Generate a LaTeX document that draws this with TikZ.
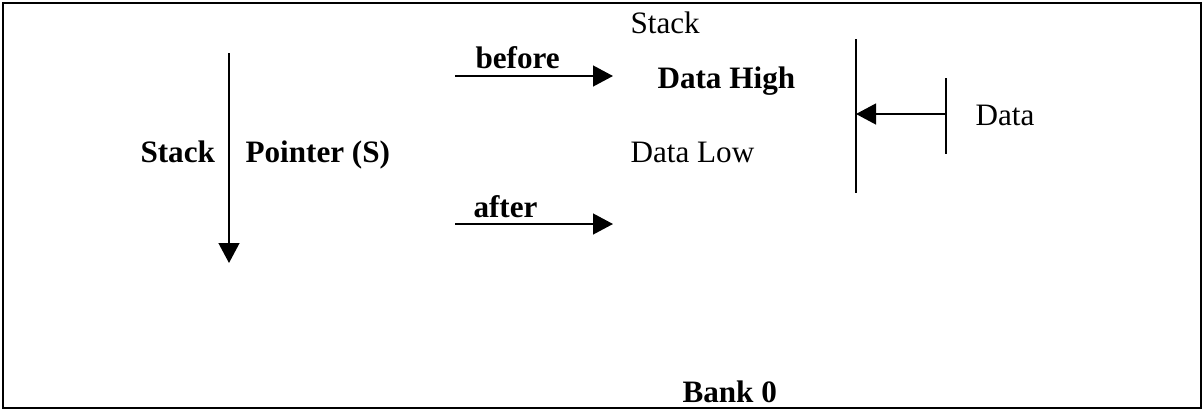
\documentclass[tikz,border=0pt]{standalone}
\usepackage{fontspec}
\setmainfont{Liberation Serif}
\usetikzlibrary{arrows.meta,positioning}

\begin{document}
\begin{tikzpicture}[
  x=0.385pt, y=-0.385pt,
  >={Triangle[length=7.7pt,width=8pt]},
  line/.style={line width=0.8pt},
  txt/.style={anchor=base west, inner sep=0pt, font=\fontsize{12}{14}\selectfont},
  btxt/.style={txt, font=\fontsize{12}{14}\selectfont\bfseries},
]
  \useasboundingbox (0,0) rectangle (1203,410);
  \draw[line width=0.9pt] (3,3) rectangle (1201,408);
  % stack pointer direction
  \coordinate (spTop) at (229,53);
  \coordinate (spEnd) at (229,263);
  \draw[line,->] (spTop) -- (spEnd);
  \node[btxt] (stackLbl) at (140,162) {Stack};
  \node[btxt] (pointerLbl) at (245,162) {Pointer (S)};
  % before / after
  \coordinate (befA) at (455,76);
  \coordinate (befB) at (613,76);
  \draw[line,->] (befA) -- (befB);
  \node[btxt] (before) at (475,68) {before};
  \coordinate (aftA) at (455,224);
  \coordinate (aftB) at (613,224);
  \draw[line,->] (aftA) -- (aftB);
  \node[btxt] (after) at (473,217) {after};
  % stack contents
  \node[txt] (stackTop) at (630,33) {Stack};
  \node[btxt] (dataHigh) at (657,88) {Data High};
  \node[txt] (dataLow) at (630,162) {Data Low};
  % data in
  \coordinate (barTop) at (856,39);
  \coordinate (barBot) at (856,193);
  \draw[line] (barTop) -- (barBot);
  \coordinate (inTop) at (946,78);
  \coordinate (inBot) at (946,154);
  \draw[line] (inTop) -- (inBot);
  \coordinate (inMid) at (946,114);
  \coordinate (barMid) at (856,114);
  \draw[line,->] (inMid) -- (barMid);
  \node[txt] (data) at (975,125) {Data};
  \node[btxt] (bank) at (682,402) {Bank 0};
\end{tikzpicture}
\end{document}
